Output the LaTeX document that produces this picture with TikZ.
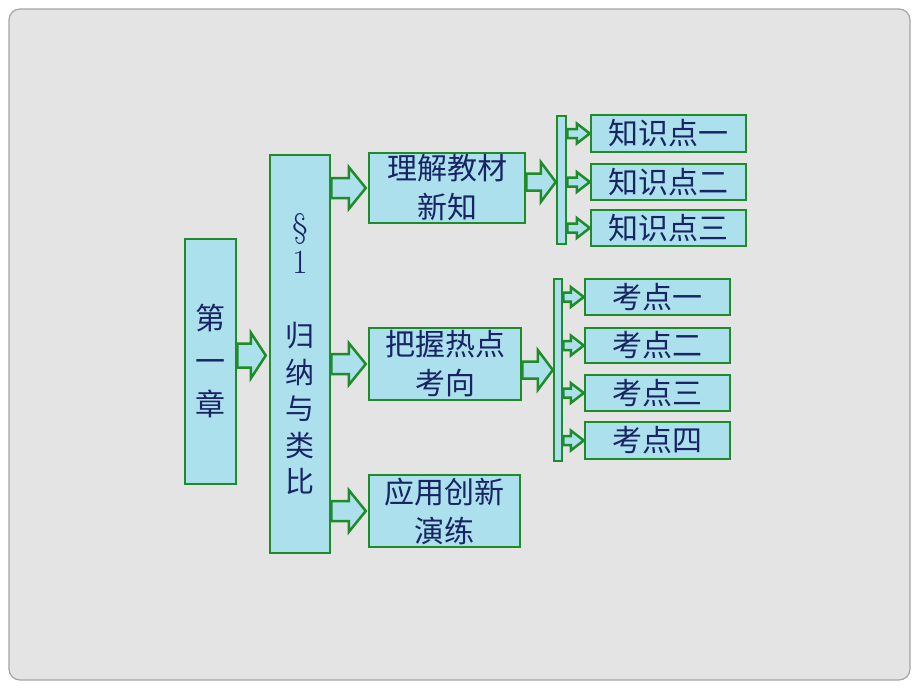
\documentclass[tikz,border=0pt]{standalone}
\usepackage{fontspec}
\newfontfamily\cjk{Noto Sans CJK SC}
\usetikzlibrary{calc}
\definecolor{bggray}{RGB}{228,228,228}
\definecolor{framegray}{RGB}{165,165,165}
\definecolor{boxfill}{RGB}{172,224,236}
\definecolor{boxgreen}{RGB}{30,140,40}
\definecolor{txt}{RGB}{24,36,100}
\begin{document}
\begin{tikzpicture}[x=1pt,y=-1pt,
  box/.style={draw=boxgreen, line width=2.5pt, fill=boxfill, inner sep=0pt, text=txt, align=center,
    font=\cjk\fontsize{28}{38}\selectfont},
  bigbox/.style={box, font=\cjk\fontsize{30}{39}\selectfont},
  leaf/.style={box, font=\cjk\fontsize{30}{34}\selectfont},
  barbox/.style={draw=boxgreen, line width=2.5pt, fill=boxfill, inner sep=0pt},
  barrow/.style n args={3}{draw=boxgreen, line width=2.5pt, fill=boxfill, line join=miter,
    to path={let \p1=(\tikztostart), \p2=(\tikztotarget) in
      ({\x1},{\y1+#1}) -- ({\x2-#3},{\y1+#1}) -- ({\x2-#3},{\y1+#2}) -- ({\x2},{\y1})
      -- ({\x2-#3},{\y1-#2}) -- ({\x2-#3},{\y1-#1}) -- ({\x1},{\y1-#1}) -- cycle}}
]
\fill[white] (0,0) rectangle (920,690);
\draw[framegray, fill=bggray, line width=1.2pt, rounded corners=11pt] (9,9) rectangle (910,680);

% main boxes
\node[bigbox, minimum width=51pt, minimum height=245pt, font=\cjk\fontsize{30}{43}\selectfont] (ch) at (210.5,361.5) {第\\一\\章};
\node[box, minimum width=60pt, minimum height=398pt, font=\cjk\fontsize{29}{36.5}\selectfont] (sec) at (300,354)
  {{\rmfamily\fontsize{34}{36.5}\selectfont\S}\\{\rmfamily\fontsize{34}{36.5}\selectfont 1}\\[36.5pt]归\\纳\\与\\类\\比};
\node[bigbox, minimum width=156pt, minimum height=70pt] (n1) at (447,188) {理解教材\\新知};
\node[bigbox, minimum width=152pt, minimum height=72pt] (n2) at (445,364) {把握热点\\考向};
\node[bigbox, minimum width=151pt, minimum height=72pt] (n3) at (444.5,511) {应用创新\\演练};

% bars
\node[barbox, minimum width=9pt, minimum height=128pt] (b1) at (561.5,180) {};
\node[barbox, minimum width=8pt, minimum height=182pt] (b2) at (558,370) {};

% leaves
\node[leaf, minimum width=155pt, minimum height=37pt] (k1) at (668.5,133.5) {知识点一};
\node[leaf, minimum width=155pt, minimum height=36pt] (k2) at (668.5,182) {知识点二};
\node[leaf, minimum width=155pt, minimum height=36pt] (k3) at (668.5,228) {知识点三};
\node[leaf, minimum width=145pt, minimum height=36pt] (p1) at (657.5,297) {考点一};
\node[leaf, minimum width=145pt, minimum height=35pt] (p2) at (657.5,345.5) {考点二};
\node[leaf, minimum width=145pt, minimum height=36pt] (p3) at (657.5,393) {考点三};
\node[leaf, minimum width=145pt, minimum height=37pt] (p4) at (657.5,440.5) {考点四};

% block arrows
\coordinate (a0) at ([yshift=6pt]ch.east);
\draw[barrow={12pt}{23pt}{15pt}] (a0) to ([xshift=-3pt]a0 -| sec.west);
\draw[barrow={10pt}{21pt}{17pt}] (sec.east |- n1.west) to ([xshift=-2pt]n1.west);
\draw[barrow={10pt}{21pt}{17pt}] (sec.east |- n2.west) to ([xshift=-2pt]n2.west);
\draw[barrow={10pt}{21pt}{17pt}] (sec.east |- n3.west) to ([xshift=-2pt]n3.west);
\coordinate (a1) at ([yshift=6pt]n1.east);
\coordinate (a2) at ([yshift=-6pt]n2.east);
\draw[barrow={8.5pt}{20pt}{15pt}] (a1) to (a1 -| b1.west);
\draw[barrow={8.5pt}{20pt}{15pt}] (a2) to (a2 -| b2.west);
\foreach \k in {k1,k2,k3}{
  \draw[barrow={4.5pt}{10pt}{13pt}] (b1.east |- \k.west) to (\k.west);
}
\foreach \k in {p1,p2,p3,p4}{
  \draw[barrow={4.5pt}{10pt}{13pt}] (b2.east |- \k.west) to (\k.west);
}
\end{tikzpicture}
\end{document}
